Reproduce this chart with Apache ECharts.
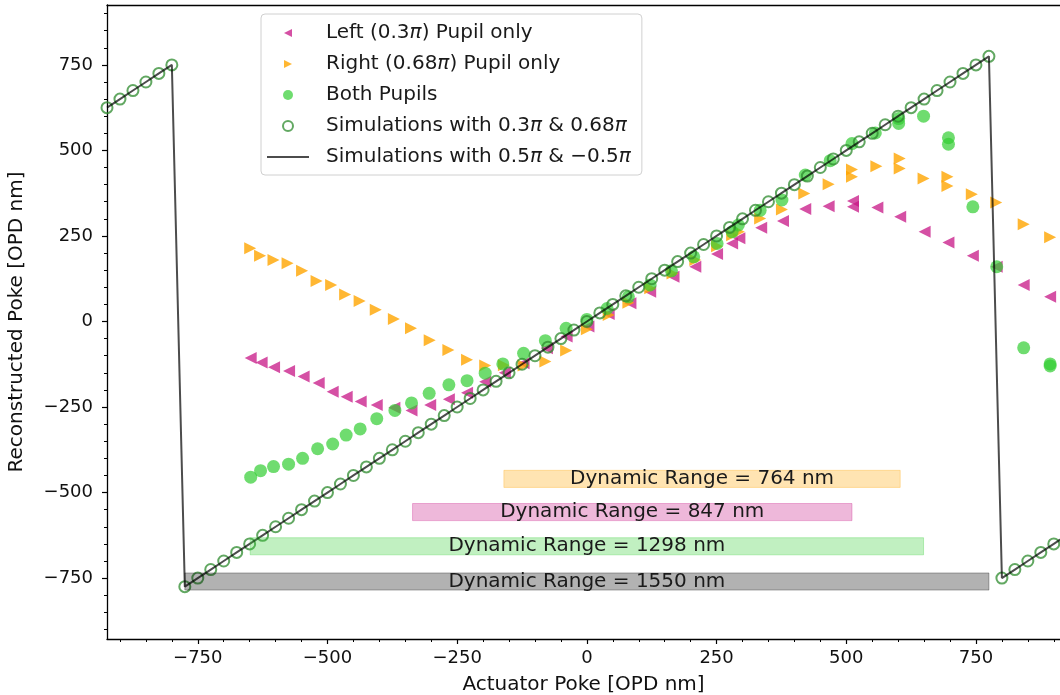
<!DOCTYPE html>
<html>
<head>
<meta charset="utf-8">
<script src="https://cdn.jsdelivr.net/npm/echarts@6/dist/echarts.min.js"></script>
<style>
  html, body { margin: 0; padding: 0; background: #fff; }
  #main { width: 1060px; height: 695px; }
</style>
</head>
<body>
<div id="main"></div>
<script>
// ---- data ----
var leftX = [-648, -627, -603, -574, -546, -517, -490, -463, -436, -405, -371, -338, -302, -266, -231, -196, -158, -122, -77, -39, 3, 42, 84, 122, 167, 209, 251, 280, 294, 336, 378, 421, 466, 513, 513, 560, 604, 651, 697, 744, 790, 842, 893];
var leftY = [-107, -120, -134, -145, -161, -180, -205, -220, -234, -244, -252, -260, -244, -227, -208, -176, -150, -122, -78, -44, -15, 22, 53, 87, 131, 160, 197, 228, 243, 274, 294, 329, 337, 352, 335, 333, 306, 262, 231, 192, 160, 107, 72];

var rightX = [-649, -630, -604, -577, -549, -521, -493, -466, -438, -407, -372, -339, -303, -267, -231, -196, -160, -122, -80, -40, 0, 42, 80, 122, 165, 209, 251, 280, 293, 334, 376, 419, 466, 511, 511, 558, 603, 603, 649, 695, 695, 742, 789, 842, 893];
var rightY = [214, 192, 180, 170, 148, 118, 107, 79, 60, 34, 7, -20, -55, -83, -112, -129, -128, -129, -117, -85, -23, 19, 55, 97, 140, 180, 220, 252, 262, 301, 327, 374, 401, 444, 423, 454, 476, 447, 418, 423, 396, 372, 348, 284, 246];

var bothX = [-648, -629, -604, -575, -548, -519, -490, -464, -437, -405, -370, -338, -304, -266, -231, -196, -162, -122, -80, -40, 0, 39, 80, 122, 163, 206, 251, 280, 292, 334, 376, 421, 469, 511, 556, 601, 601, 649, 697, 697, 744, 790, 842, 893, 893];
var bothY = [-455, -436, -424, -417, -400, -372, -358, -332, -314, -284, -260, -238, -210, -185, -173, -151, -124, -93, -56, -20, 6, 38, 72, 107, 148, 189, 228, 262, 282, 325, 355, 428, 470, 520, 551, 593, 579, 600, 537, 518, 335, 160, -77, -124, -130];

var simX = [-925, -900, -875, -850, -825, -800, -775, -750, -725, -700, -675, -650, -625, -600, -575, -550, -525, -500, -475, -450, -425, -400, -375, -350, -325, -300, -275, -250, -225, -200, -175, -150, -125, -100, -75, -50, -25, 0, 25, 50, 75, 100, 125, 150, 175, 200, 225, 250, 275, 300, 325, 350, 375, 400, 425, 450, 475, 500, 525, 550, 575, 600, 625, 650, 675, 700, 725, 750, 775, 800, 825, 850, 875, 900, 925];
var simY = [625, 650, 675, 700, 725, 750, -775, -750, -725, -700, -675, -650, -625, -600, -575, -550, -525, -500, -475, -450, -425, -400, -375, -350, -325, -300, -275, -250, -225, -200, -175, -150, -125, -100, -75, -50, -25, 0, 25, 50, 75, 100, 125, 150, 175, 200, 225, 250, 275, 300, 325, 350, 375, 400, 425, 450, 475, 500, 525, 550, 575, 600, 625, 650, 675, 700, 725, 750, 775, -750, -725, -700, -675, -650, -625];

// dynamic range bands
var rangeStart = [-160, -336, -649, -775];
var rangeEnd = [604, 511, 649, 775];
var rangeRowY = [-460, -557, -657, -760];
var rangeLabels = ['Dynamic Range = 764 nm', 'Dynamic Range = 847 nm', 'Dynamic Range = 1298 nm', 'Dynamic Range = 1550 nm'];
var rangeFill = ['rgba(255,165,0,0.3)', 'rgba(199,21,133,0.3)', 'rgba(50,205,50,0.3)', 'rgba(0,0,0,0.3)'];

var majorTicks = [-750, -500, -250, 0, 250, 500, 750];
var minorTicks = [];
for (var t = -900; t <= 900; t += 50) minorTicks.push(t);

var FONT = 'DejaVu Sans';
function pairs(xs, ys) { return xs.map(function (x, i) { return [x, ys[i]]; }); }
function fmt(v) { return v < 0 ? '\u2212' + Math.abs(v) : String(v); }

var xMin = -925, xMax = 912, yMin = -928, yMax = 925;

// legend icons, drawn in a 42x10 box
var ICON_LEFT = 'path://M0,0M42,10M17,5L25,1L25,9Z';
var ICON_RIGHT = 'path://M0,0M42,10M17,1L25,5L17,9Z';
var ICON_LINE = 'path://M0,4L42,4L42,6L0,6Z';

var chart = echarts.init(document.getElementById('main'));
var option = {
    animation: false,
    backgroundColor: '#fff',
    grid: { left: 107, right: 0, top: 5, bottom: 56, outerBoundsMode: 'none', containLabel: false },
    legend: {
        orient: 'vertical',
        left: 261, top: 14,
        padding: [9, 11, 8, 6],
        itemGap: 11,
        itemWidth: 42, itemHeight: 10,
        symbolRotate: 0,
        backgroundColor: '#fff',
        borderColor: '#d0d0d0', borderWidth: 1, borderRadius: 4,
        data: [
            { name: 'Left (0.3π) Pupil only', icon: ICON_LEFT },
            { name: 'Right (0.68π) Pupil only', icon: ICON_RIGHT },
            { name: 'Both Pupils', icon: 'circle' },
            { name: 'Simulations with 0.3π & 0.68π', icon: 'circle' },
            { name: 'Simulations with 0.5π & −0.5π', icon: ICON_LINE }
        ],
        formatter: function (name) { return name.replace(/π/g, '{i|π}'); },
        textStyle: {
            fontFamily: FONT, fontSize: 20, color: '#1a1a1a', padding: [0, 0, 0, 12],
            rich: { i: { fontFamily: FONT, fontSize: 20, fontStyle: 'italic', color: '#1a1a1a' } }
        }
    },
    xAxis: [{
        type: 'value', min: xMin, max: xMax, position: 'bottom',
        name: 'Actuator Poke [OPD nm]', nameLocation: 'middle', nameGap: 36,
        nameTextStyle: { fontFamily: FONT, fontSize: 20, color: '#111' },
        axisLine: { show: true, onZero: false, lineStyle: { color: '#000', width: 1.3 } },
        axisTick: { show: true, customValues: majorTicks, length: 5, lineStyle: { color: '#000', width: 1.2 } },
        axisLabel: { customValues: majorTicks, formatter: fmt, margin: 10, fontFamily: FONT, fontSize: 18, color: '#111' },
        splitLine: { show: false }
    }, {
        type: 'value', min: xMin, max: xMax, position: 'bottom',
        axisLine: { show: false, onZero: false },
        axisTick: { show: true, customValues: minorTicks, length: 3, lineStyle: { color: '#000', width: 1 } },
        axisLabel: { show: false }, splitLine: { show: false }
    }, {
        type: 'value', min: xMin, max: xMax, position: 'top',
        axisLine: { show: true, onZero: false, lineStyle: { color: '#000', width: 1.3 } },
        axisTick: { show: false }, axisLabel: { show: false }, splitLine: { show: false }
    }],
    yAxis: [{
        type: 'value', min: yMin, max: yMax, position: 'left',
        name: 'Reconstructed Poke [OPD nm]', nameLocation: 'middle', nameGap: 80,
        nameTextStyle: { fontFamily: FONT, fontSize: 20, color: '#111' },
        axisLine: { show: true, onZero: false, lineStyle: { color: '#000', width: 1.3 } },
        axisTick: { show: true, customValues: majorTicks, length: 5, lineStyle: { color: '#000', width: 1.2 } },
        axisLabel: { customValues: majorTicks, formatter: fmt, margin: 14, fontFamily: FONT, fontSize: 18, color: '#111' },
        splitLine: { show: false }
    }, {
        type: 'value', min: yMin, max: yMax, position: 'left',
        axisLine: { show: false, onZero: false },
        axisTick: { show: true, customValues: minorTicks, length: 3, lineStyle: { color: '#000', width: 1 } },
        axisLabel: { show: false }, splitLine: { show: false }
    }],
    series: [{
        name: 'Left (0.3π) Pupil only', type: 'scatter',
        symbol: 'triangle', symbolRotate: 90, symbolSize: 12,
        itemStyle: { color: '#C71585', opacity: 0.75 },
        data: pairs(leftX, leftY), z: 2
    }, {
        name: 'Right (0.68π) Pupil only', type: 'scatter',
        symbol: 'triangle', symbolRotate: -90, symbolSize: 12,
        itemStyle: { color: '#FFA500', opacity: 0.8 },
        data: pairs(rightX, rightY), z: 3
    }, {
        name: 'Both Pupils', type: 'scatter',
        symbol: 'circle', symbolSize: 13,
        itemStyle: { color: '#32CD32', opacity: 0.7 },
        data: pairs(bothX, bothY), z: 4
    }, {
        name: 'Simulations with 0.3π & 0.68π', type: 'scatter',
        symbol: 'circle', symbolSize: 11,
        itemStyle: { color: 'rgba(0,0,0,0)', borderColor: '#2e8b2e', borderWidth: 2, opacity: 0.75 },
        data: pairs(simX, simY), z: 5
    }, {
        name: 'Simulations with 0.5π & −0.5π', type: 'line',
        symbol: 'none', showSymbol: false, clip: true,
        lineStyle: { color: '#000', width: 2, opacity: 0.7 },
        itemStyle: { color: '#000', opacity: 0.7 },
        data: pairs(simX, simY), z: 6
    }, {
        name: 'ranges', type: 'custom', z: 7,
        encode: { x: [0, 1], y: 2 },
        data: rangeStart.map(function (s, i) { return [s, rangeEnd[i], rangeRowY[i]]; }),
        renderItem: function (params, api) {
            var i = params.dataIndex;
            var p0 = api.coord([api.value(0), api.value(2)]);
            var p1 = api.coord([api.value(1), api.value(2)]);
            var h = api.size([0, 50])[1];
            return {
                type: 'group',
                children: [{
                    type: 'rect',
                    shape: { x: p0[0], y: p0[1] - h / 2, width: p1[0] - p0[0], height: h },
                    style: { fill: rangeFill[i], stroke: rangeFill[i], lineWidth: 1 }
                }, {
                    type: 'text',
                    style: {
                        text: rangeLabels[i], x: (p0[0] + p1[0]) / 2, y: p0[1],
                        align: 'center', verticalAlign: 'middle',
                        font: '20px "DejaVu Sans"', fill: '#1a1a1a'
                    }
                }]
            };
        }
    }]
};
chart.setOption(option);
</script>
</body>
</html>
